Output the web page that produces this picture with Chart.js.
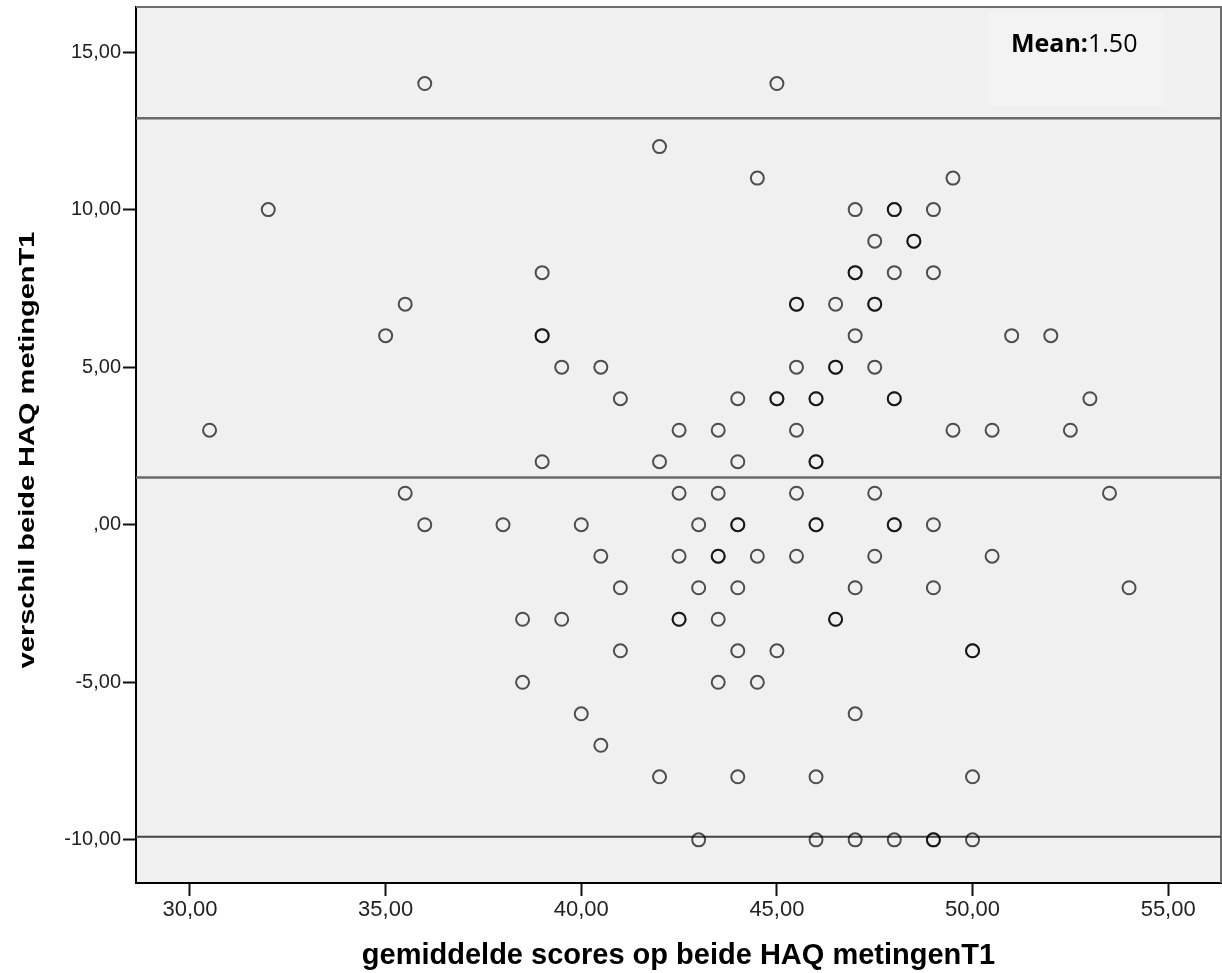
<!DOCTYPE html>
<html>
<head>
<meta charset="utf-8">
<script src="https://cdn.jsdelivr.net/npm/chart.js@4/dist/chart.umd.min.js"></script>
<style>
  html, body { margin: 0; padding: 0; background: #fff; }
  #wrap { width: 1222px; height: 973px; }
</style>
</head>
<body>
<div id="wrap"><canvas id="grafiek"></canvas></div>
<script>
// gemiddelde scores (x) en verschil (y), punt voor punt
const gemiddelde = [
    36, 45,
    42,
    44.5, 49.5,
    32, 47, 48, 48, 49,
    47.5, 48.5, 48.5,
    39, 47, 47, 48, 49,
    35.5, 45.5, 45.5, 46.5, 47.5, 47.5,
    35, 39, 39, 47, 51, 52,
    39.5, 40.5, 45.5, 46.5, 46.5, 47.5,
    41, 44, 45, 45, 46, 46, 48, 48, 53,
    30.5, 42.5, 43.5, 45.5, 49.5, 50.5, 52.5,
    39, 42, 44, 46, 46,
    35.5, 42.5, 43.5, 45.5, 47.5, 53.5,
    36, 38, 40, 43, 44, 44, 46, 46, 48, 48, 49,
    40.5, 42.5, 43.5, 43.5, 44.5, 45.5, 47.5, 50.5,
    41, 43, 44, 47, 49, 54,
    38.5, 39.5, 42.5, 42.5, 43.5, 46.5, 46.5,
    41, 44, 45, 50, 50,
    38.5, 43.5, 44.5,
    40, 47,
    40.5,
    42, 44, 46, 50,
    43, 46, 47, 48, 49, 49, 50
];
const verschil = [
    14, 14,
    12,
    11, 11,
    10, 10, 10, 10, 10,
    9, 9, 9,
    8, 8, 8, 8, 8,
    7, 7, 7, 7, 7, 7,
    6, 6, 6, 6, 6, 6,
    5, 5, 5, 5, 5, 5,
    4, 4, 4, 4, 4, 4, 4, 4, 4,
    3, 3, 3, 3, 3, 3, 3,
    2, 2, 2, 2, 2,
    1, 1, 1, 1, 1, 1,
    0, 0, 0, 0, 0, 0, 0, 0, 0, 0, 0,
    -1, -1, -1, -1, -1, -1, -1, -1,
    -2, -2, -2, -2, -2, -2,
    -3, -3, -3, -3, -3, -3, -3,
    -4, -4, -4, -4, -4,
    -5, -5, -5,
    -6, -6,
    -7,
    -8, -8, -8, -8,
    -10, -10, -10, -10, -10, -10, -10
];

// referentielijnen: bovengrens, gemiddelde, ondergrens
const gemiddeldeVerschil = 1.5;
const bovengrens = 12.9;
const ondergrens = -9.9;

const xTicks = [30, 35, 40, 45, 50, 55];
const yTicks = [-10, -5, 0, 5, 10, 15];
const xBereik = [28.62, 56.35];
const yBereik = [-11.37, 16.43];

const yTitel = 'verschil beide HAQ metingenT1';
const xTitel = 'gemiddelde scores op beide HAQ metingenT1';

function nlLabel(v) {
    if (v === 0) return ',00';
    return v.toFixed(2).replace('.', ',');
}

function lijn(y) {
    return [{ x: xBereik[0], y: y }, { x: xBereik[1], y: y }];
}

const punten = gemiddelde.map((x, i) => ({ x: x, y: verschil[i] }));

const achtergrond = {
    id: 'achtergrond',
    beforeDraw(chart) {
        const { ctx, chartArea: a } = chart;
        ctx.save();
        ctx.fillStyle = '#f0f0f0';
        ctx.fillRect(a.left, a.top, a.right - a.left, a.bottom - a.top);
        // licht vak achter de tekst
        ctx.fillStyle = '#f3f3f3';
        ctx.fillRect(a.right - 233, a.top + 5, 177, 94);
        ctx.restore();
    },
    beforeDatasetsDraw(chart) {
        const { ctx, chartArea: a } = chart;
        ctx.save();
        ctx.strokeStyle = '#6e6e6e';
        ctx.lineWidth = 2;
        ctx.beginPath();
        ctx.moveTo(a.left, a.top);
        ctx.lineTo(a.right, a.top);
        ctx.lineTo(a.right, a.bottom);
        ctx.stroke();
        ctx.restore();
    },
    afterDraw(chart) {
        const { ctx, chartArea: a } = chart;
        ctx.save();
        // Mean tekst
        ctx.textBaseline = 'alphabetic';
        ctx.fillStyle = '#000';
        ctx.font = 'bold 25px "Open Sans", "Liberation Sans", sans-serif';
        const x0 = a.right - 210;
        const y0 = a.top + 45;
        ctx.fillText('Mean:', x0, y0);
        const w = ctx.measureText('Mean:').width;
        ctx.font = '25px "Open Sans", "Liberation Sans", sans-serif';
        ctx.fillText(gemiddeldeVerschil.toFixed(2), x0 + w, y0);

        // y-as titel, iets smaller getekend dan hoog
        ctx.translate(28, (a.top + a.bottom) / 2 + 5);
        ctx.rotate(-Math.PI / 2);
        ctx.scale(1, 0.78);
        ctx.textAlign = 'center';
        ctx.textBaseline = 'middle';
        ctx.font = 'bold 29px "Liberation Sans", Arial, sans-serif';
        ctx.fillText(yTitel, 0, 0);
        ctx.restore();
    }
};

const ctx = document.getElementById('grafiek').getContext('2d');
new Chart(ctx, {
    type: 'scatter',
    data: {
        datasets: [
            {
                label: 'verschil',
                data: punten,
                pointStyle: 'circle',
                pointRadius: 6.5,
                pointBorderWidth: 2,
                pointBackgroundColor: 'rgba(0,0,0,0)',
                pointBorderColor: 'rgba(0,0,0,0.68)',
                order: 1
            },
            {
                type: 'line',
                data: lijn(bovengrens),
                borderColor: '#6a6a6a',
                borderWidth: 2.5,
                pointRadius: 0,
                order: 2
            },
            {
                type: 'line',
                data: lijn(gemiddeldeVerschil),
                borderColor: '#6a6a6a',
                borderWidth: 2.5,
                pointRadius: 0,
                order: 2
            },
            {
                type: 'line',
                data: lijn(ondergrens),
                borderColor: '#444',
                borderWidth: 2,
                pointRadius: 0,
                order: 2
            }
        ]
    },
    options: {
        responsive: true,
        maintainAspectRatio: false,
        animation: false,
        layout: { autoPadding: false, padding: { top: 7, right: 1, left: 0, bottom: 0 } },
        plugins: {
            legend: { display: false },
            tooltip: { enabled: false }
        },
        scales: {
            x: {
                type: 'linear',
                min: xBereik[0],
                max: xBereik[1],
                afterBuildTicks: (s) => { s.ticks = xTicks.map(v => ({ value: v })); },
                afterFit: (s) => { s.height = 90; s.paddingLeft = 0; s.paddingRight = 0; },
                grid: { drawOnChartArea: false, drawTicks: true, tickLength: 13, tickColor: '#111', tickWidth: 2 },
                border: { display: true, color: '#000', width: 2 },
                ticks: {
                    callback: (v) => nlLabel(v),
                    color: '#222',
                    padding: 1,
                    maxRotation: 0,
                    font: { family: '"Liberation Sans", Arial, sans-serif', size: 22 }
                },
                title: {
                    display: true,
                    text: xTitel,
                    color: '#000',
                    font: { family: '"Liberation Sans", Arial, sans-serif', size: 29, weight: 'bold' },
                    padding: { top: 0, bottom: 0 }
                }
            },
            y: {
                type: 'linear',
                min: yBereik[0],
                max: yBereik[1],
                afterBuildTicks: (s) => { s.ticks = yTicks.map(v => ({ value: v })); },
                afterFit: (s) => { s.width = 136; s.paddingTop = 0; s.paddingBottom = 0; },
                grid: { drawOnChartArea: false, drawTicks: true, tickLength: 13, tickColor: '#111', tickWidth: 2 },
                border: { display: true, color: '#000', width: 2 },
                ticks: {
                    callback: (v) => nlLabel(v),
                    color: '#222',
                    padding: 2,
                    font: { family: '"Liberation Sans", Arial, sans-serif', size: 20 }
                }
            }
        }
    },
    plugins: [achtergrond]
});
</script>
</body>
</html>
